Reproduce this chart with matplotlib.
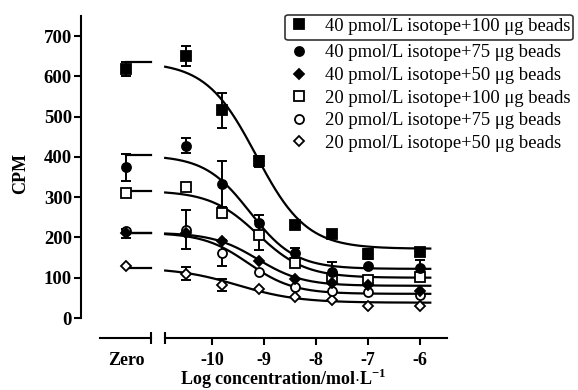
import numpy as np
import matplotlib
matplotlib.use("Agg")
import matplotlib.pyplot as plt
from matplotlib.patches import FancyBboxPatch

plt.rcParams["font.family"] = ["Liberation Serif", "DejaVu Serif"]
plt.rcParams["mathtext.fontset"] = "custom"
plt.rcParams["mathtext.rm"] = "Liberation Serif:bold"
plt.rcParams["mathtext.bf"] = "Liberation Serif:bold"

# log concentration of the competitor (mol/L)
log_conc = [-10.5, -9.8, -9.1, -8.4, -7.7, -7.0, -6.0]
zero_pos = -11.65

labels = [
    "40 pmol/L isotope+100 \u03bcg beads",
    "40 pmol/L isotope+75 \u03bcg beads",
    "40 pmol/L isotope+50 \u03bcg beads",
    "20 pmol/L isotope+100 \u03bcg beads",
    "20 pmol/L isotope+75 \u03bcg beads",
    "20 pmol/L isotope+50 \u03bcg beads",
]

# CPM with no competitor ("Zero")
zero_cpm = [618, 374, 210, 311, 215, 130]
zero_err = [17, 33, 12, 0, 0, 0]

cpm_40_100 = [650, 516, 389, 232, 209, 159, 165]
err_40_100 = [25, 43, 13, 0, 0, 12, 0]
cpm_40_75 = [428, 333, 237, 162, 115, 130, 125]
err_40_75 = [18, 58, 20, 12, 25, 0, 18]
cpm_40_50 = [210, 190, 142, 97, 88, 82, 68]
err_40_50 = [0, 0, 0, 0, 0, 0, 0]
cpm_20_100 = [326, 262, 205, 137, 100, 95, 102]
err_20_100 = [0, 0, 35, 0, 0, 10, 0]
cpm_20_75 = [219, 161, 115, 77, 67, 65, 57]
err_20_75 = [48, 33, 0, 0, 0, 0, 0]
cpm_20_50 = [110, 82, 72, 52, 45, 30, 30]
err_20_50 = [16, 15, 0, 0, 0, 0, 0]

# fitted curves: top, bottom, logIC50, hill slope
fit_top = [636, 404, 212, 316, 212, 125]
fit_bottom = [172, 122, 80, 100, 60, 38]
fit_logic50 = [-9.15, -9.27, -9.12, -9.12, -9.3, -9.5]
fit_hill = [0.9, 1.0, 1.0, 0.95, 1.0, 0.75]

all_cpm = [cpm_40_100, cpm_40_75, cpm_40_50, cpm_20_100, cpm_20_75, cpm_20_50]
all_err = [err_40_100, err_40_75, err_40_50, err_20_100, err_20_75, err_20_50]
markers = ["s", "o", "D", "s", "o", "D"]
faces = ["black", "black", "black", "white", "white", "white"]
sizes = [6.5, 6.5, 5.2, 6.5, 6.5, 5.2]

fig = plt.figure(figsize=(5.78, 3.9), dpi=100)
ax = fig.add_axes([0.1401, 0.1846, 0.6367, 0.7744])
ax0 = fig.add_axes([0.1401, 0.1846, 0.6367, 0.7744], sharey=ax)
ax0.patch.set_visible(False)

xlim = (-12.52, -5.44)
ax.set_xlim(xlim)
ax0.set_xlim(xlim)
ax.set_ylim(0, 750)

x_curve = np.linspace(-10.9, -5.8, 200)
handles = []
for i in range(6):
    top, bot = fit_top[i], fit_bottom[i]
    y_curve = bot + (top - bot) / (1 + 10 ** ((x_curve - fit_logic50[i]) * fit_hill[i]))
    ax.plot(x_curve, y_curve, color="black", lw=1.6, zorder=2)
    ax.plot([zero_pos, -11.17], [top, top], color="black", lw=1.6, zorder=2)

    xs = [zero_pos] + log_conc
    ys = [zero_cpm[i]] + all_cpm[i]
    es = [zero_err[i]] + all_err[i]
    ex = [x for x, e in zip(xs, es) if e > 0]
    ey = [y for y, e in zip(ys, es) if e > 0]
    ee = [e for e in es if e > 0]
    if ee:
        ax.errorbar(ex, ey, yerr=ee, fmt="none", ecolor="black",
                    elinewidth=1.4, capsize=3.5, capthick=1.4, zorder=3)
    h, = ax.plot(xs, ys, linestyle="none", marker=markers[i], ms=sizes[i],
                 mfc=faces[i], mec="black", mew=1.3, zorder=4.1 - i * 0.01,
                 clip_on=False)
    handles.append(h)

# y axis
for s in ["top", "right"]:
    ax.spines[s].set_visible(False)
ax.spines["left"].set_linewidth(1.5)
ax.set_yticks(range(0, 800, 100))
ax.tick_params(axis="y", direction="out", length=5, width=1.5, pad=1.5,
               labelsize=13.5)
for t in ax.get_yticklabels():
    t.set_fontweight("bold")
ax.set_ylabel("CPM", fontsize=13, fontweight="bold")
ax.yaxis.set_label_coords(-0.141, 0.48)

# broken x axis: main segment
ax.spines["bottom"].set_position(("outward", 14.4))
ax.spines["bottom"].set_bounds(-10.9, -5.48)
ax.spines["bottom"].set_linewidth(1.5)
ax.set_xticks([-10, -9, -8, -7, -6])
ax.set_xticklabels(["-10", "-9", "-8", "-7", "-6"])
ax.set_xticks([-10.9], minor=True)
ax.tick_params(axis="x", which="major", direction="out", length=5, width=1.5,
               pad=5, labelsize=13)
ax.tick_params(axis="x", which="minor", direction="inout", length=9, width=1.5)
for t in ax.get_xticklabels():
    t.set_fontweight("bold")
ax.set_xlabel(r"Log concentration/mol$\cdot$L$^{-1}$", fontsize=13, fontweight="bold")
ax.xaxis.set_label_coords(0.549, -0.163)

# broken x axis: zero segment
for s in ["top", "right", "left"]:
    ax0.spines[s].set_visible(False)
ax0.spines["bottom"].set_position(("outward", 14.4))
ax0.spines["bottom"].set_bounds(-12.15, -11.17)
ax0.spines["bottom"].set_linewidth(1.5)
ax0.set_xticks([zero_pos])
ax0.set_xticklabels(["Zero"])
ax0.set_xticks([-11.17], minor=True)
ax0.tick_params(axis="x", which="major", length=0, pad=10, labelsize=13)
ax0.tick_params(axis="x", which="minor", direction="inout", length=9, width=1.5)
ax0.tick_params(axis="y", left=False, labelleft=False)
for t in ax0.get_xticklabels():
    t.set_fontweight("bold")

leg_kw = dict(loc="upper left", frameon=False, fontsize=13.4, handlelength=0.8,
              handletextpad=1.0, labelspacing=0.30, borderpad=0, borderaxespad=0)
fig.legend(handles[:1], labels[:1], bbox_to_anchor=(0.504, 0.955), **leg_kw)
fig.legend(handles[1:], labels[1:], bbox_to_anchor=(0.504, 0.886), **leg_kw)

box = FancyBboxPatch((285 / 578, 1 - 40 / 390), 288 / 578, 25 / 390,
                     boxstyle="round,pad=0,rounding_size=0.006",
                     transform=fig.transFigure, fill=False, ec="#333333", lw=1.2)
fig.patches.append(box)

fig.savefig("out.png", dpi=100)
